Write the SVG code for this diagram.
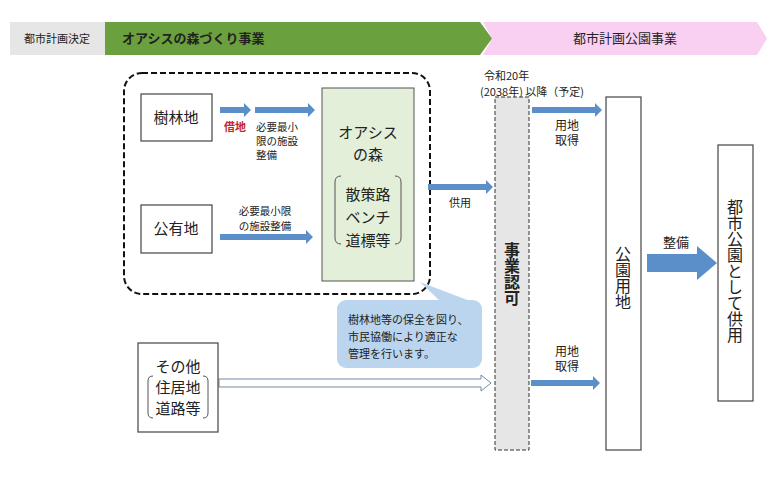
<svg xmlns="http://www.w3.org/2000/svg" width="777" height="478" viewBox="0 0 777 478">
<style>
text{font-family:"Noto Sans CJK JP","Noto Sans CJK SC",sans-serif;fill:#222}
.box{fill:#fff;stroke:#444;stroke-width:1.2}
.a{fill:#5b8fc9}
.s{font-size:11px}
.t{font-size:10.5px}
.m{font-size:15px}
.v{font-size:16px;writing-mode:tb;glyph-orientation-vertical:0}
</style>
<rect width="777" height="478" fill="#fff"/>
<g id="header">
<rect x="10" y="22" width="95" height="33" fill="#e6e6e6"/>
<text x="57" y="43" class="s" text-anchor="middle">都市計画決定</text>
<polygon points="483,22 757,22 767,38.5 757,55 483,55 492,38.5" fill="#f9d0f2"/>
<text x="625" y="43" font-size="13" text-anchor="middle">都市計画公園事業</text>
<polygon points="105,22 480,22 492,38.5 480,55 105,55" fill="#6aa03e"/>
<text x="122" y="43" font-size="13" font-weight="bold">オアシスの森づくり事業</text>
</g>
<rect x="124" y="73" width="306" height="221" rx="18" fill="none" stroke="#111" stroke-width="2" stroke-dasharray="6,3"/>
<g id="connectors">
<polygon class="a" points="220,107 244,107 244,103 251,110 244,117 244,113 220,113"/>
<polygon class="a" points="255,107 308,107 308,103 315,110 308,117 308,113 255,113"/>
<polygon class="a" points="220,234 306,234 306,230 313,237 306,244 306,240 220,240"/>
<polygon class="a" points="428,184 486,184 486,180 493,187 486,194 486,190 428,190"/>
<polygon class="a" points="532,107 595,107 595,103 602,110 595,117 595,113 532,113"/>
<polygon class="a" points="531,380 593,380 593,376 600,383 593,390 593,386 531,386"/>
<polygon class="a" points="647,254 697,254 697,246 717,263 697,280 697,272 647,272"/>
<polygon points="219,379 481,379 481,375 491,383 481,391 481,387 219,387" fill="#fff" stroke="#6f8aa8" stroke-width="1"/>
</g>
<g id="labels">
<text x="235" y="131" class="s" style="fill:#c0282d" font-weight="bold" text-anchor="middle">借地</text>
<text x="256" y="131" class="t">必要最小</text>
<text x="256" y="145" class="t">限の施設</text>
<text x="256" y="159" class="t">整備</text>
<text x="265" y="215" class="t" text-anchor="middle">必要最小限</text>
<text x="265" y="230" class="t" text-anchor="middle">の施設整備</text>
<text x="460" y="207" class="s" text-anchor="middle">供用</text>
<text x="484" y="80" class="s">令和20年</text>
<text x="480" y="96" class="s">(2038年) 以降（予定)</text>
<text x="567" y="130" font-size="12" text-anchor="middle">用地</text>
<text x="567" y="145" font-size="12" text-anchor="middle">取得</text>
<text x="567" y="356" font-size="12" text-anchor="middle">用地</text>
<text x="567" y="371" font-size="12" text-anchor="middle">取得</text>
<text x="676" y="247" font-size="13" text-anchor="middle">整備</text>
</g>
<g id="n-jurin"><rect class="box" x="141" y="94" width="71" height="47"/><text x="176" y="123" class="m" text-anchor="middle">樹林地</text></g>
<g id="n-kouyu"><rect class="box" x="141" y="205" width="71" height="48"/><text x="176" y="234" class="m" text-anchor="middle">公有地</text></g>
<g id="n-oasis">
<rect x="322" y="88" width="92" height="193" fill="#e3efd8" stroke="#555" stroke-width="1"/>
<text x="368" y="138" class="m" text-anchor="middle">オアシス</text>
<text x="368" y="160" class="m" text-anchor="middle">の森</text>
<text x="368" y="200" class="m" text-anchor="middle">散策路</text>
<text x="368" y="223" class="m" text-anchor="middle">ベンチ</text>
<text x="368" y="246" class="m" text-anchor="middle">道標等</text>
<path d="M341,176 q-6,0 -6,6 v56 q0,6 6,6 M395,176 q6,0 6,6 v56 q0,6 -6,6" fill="none" stroke="#555"/>
</g>
<g id="n-callout">
<polygon points="420,282 470,301 440,301" fill="#bcd5ee"/>
<rect x="337" y="300" width="145" height="68" rx="9" fill="#bcd5ee"/>
<text x="348" y="324" class="s">樹林地等の保全を図り、</text>
<text x="348" y="341" class="s">市民協働により適正な</text>
<text x="348" y="358" class="s">管理を行います。</text>
</g>
<g id="n-sonota">
<rect class="box" x="138" y="343" width="80" height="89"/>
<text x="178" y="372" class="m" text-anchor="middle">その他</text>
<text x="178" y="393" class="m" text-anchor="middle">住居地</text>
<text x="178" y="414" class="m" text-anchor="middle">道路等</text>
<path d="M153,376 q-5,0 -5,5 v32 q0,5 5,5 M203,376 q5,0 5,5 v32 q0,5 -5,5" fill="none" stroke="#555"/>
</g>
<g id="n-ninka">
<rect x="495" y="97" width="34" height="353" fill="#e6e6e6" stroke="#333" stroke-dasharray="4,2"/>
<text x="512" y="242" class="v" font-weight="bold">事業認可</text>
</g>
<g id="n-kouen">
<rect class="box" x="606" y="97" width="35" height="353"/>
<text x="623" y="246" class="v">公園用地</text>
</g>
<g id="n-toshi">
<rect class="box" x="718" y="145" width="35" height="256"/>
<text x="735" y="199" class="v">都市公園として供用</text>
</g>
</svg>
